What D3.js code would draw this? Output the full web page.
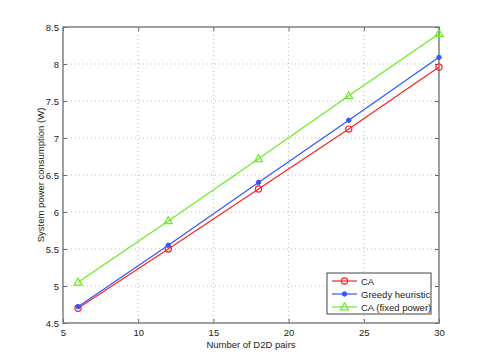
<!DOCTYPE html>
<html>
<head>
<meta charset="utf-8">
<script src="https://cdn.jsdelivr.net/npm/d3@7"></script>
<style>
  body { margin: 0; background: #fff; }
  svg { font-family: "Liberation Sans", Arial, sans-serif; }
</style>
</head>
<body>
<div id="chart"></div>
<script>
var svgWidth = 485;
var svgHeight = 363;

var margin = { top: 27, right: 46, bottom: 40, left: 63 };
var width = svgWidth - margin.left - margin.right;
var height = svgHeight - margin.top - margin.bottom;

// data
var pairs = [6, 12, 18, 24, 30];
var caPower = [4.70, 5.50, 6.31, 7.12, 7.96];
var greedyPower = [4.72, 5.55, 6.40, 7.24, 8.09];
var fixedPower = [5.05, 5.88, 6.72, 7.57, 8.41];
var xTicks = [5, 10, 15, 20, 25, 30];
var yTicks = [4.5, 5, 5.5, 6, 6.5, 7, 7.5, 8, 8.5];

var series = [
  { name: "CA", values: caPower, color: "#ff2020", marker: "circle" },
  { name: "Greedy heuristic", values: greedyPower, color: "#3355ff", marker: "dot" },
  { name: "CA (fixed power)", values: fixedPower, color: "#66ee22", marker: "triangle" }
];

var svg = d3.select("#chart")
  .append("svg")
  .attr("width", svgWidth)
  .attr("height", svgHeight);

var chartGroup = svg.append("g")
  .attr("transform", `translate(${margin.left}, ${margin.top})`);

var xScale = d3.scaleLinear().domain([5, 30]).range([0, width]);
var yScale = d3.scaleLinear().domain([4.5, 8.5]).range([height, 0]);

// dotted grid
chartGroup.append("g")
  .selectAll("line")
  .data(xTicks.slice(1, -1))
  .enter()
  .append("line")
  .attr("x1", d => xScale(d)).attr("x2", d => xScale(d))
  .attr("y1", 0).attr("y2", height)
  .attr("stroke", "#aaa")
  .attr("stroke-width", 0.8)
  .attr("stroke-dasharray", "1,3");

chartGroup.append("g")
  .selectAll("line")
  .data(yTicks.slice(1, -1))
  .enter()
  .append("line")
  .attr("x1", 0).attr("x2", width)
  .attr("y1", d => yScale(d)).attr("y2", d => yScale(d))
  .attr("stroke", "#aaa")
  .attr("stroke-width", 0.8)
  .attr("stroke-dasharray", "1,3");

// axes, ticks pointing inward on all four sides
function styleAxis(g) {
  g.select(".domain").remove();
  g.selectAll(".tick line").attr("stroke", "#666").attr("stroke-width", 1);
  g.selectAll(".tick text")
    .attr("fill", "#222")
    .style("font-size", "9.5px");
}

var bottomAxis = d3.axisBottom(xScale).tickValues(xTicks).tickSize(-4).tickPadding(6).tickFormat(d3.format("d"));
var leftAxis = d3.axisLeft(yScale).tickValues(yTicks).tickSize(-4).tickPadding(4).tickFormat(d => d);

chartGroup.append("g")
  .attr("transform", `translate(0, ${height})`)
  .call(bottomAxis)
  .call(styleAxis);

chartGroup.append("g")
  .call(leftAxis)
  .call(styleAxis);

chartGroup.append("g")
  .call(d3.axisTop(xScale).tickValues(xTicks).tickSize(-4).tickFormat(""))
  .call(styleAxis);

chartGroup.append("g")
  .attr("transform", `translate(${width}, 0)`)
  .call(d3.axisRight(yScale).tickValues(yTicks).tickSize(-4).tickFormat(""))
  .call(styleAxis);

// frame
chartGroup.append("rect")
  .attr("width", width)
  .attr("height", height)
  .attr("fill", "none")
  .attr("stroke", "#777")
  .attr("stroke-width", 1.4);

// lines
var line = d3.line()
  .x((d, i) => xScale(pairs[i]))
  .y(d => yScale(d));

function drawMarker(g, type, color, x, y) {
  if (type === "circle") {
    g.append("circle").attr("cx", x).attr("cy", y).attr("r", 3.1)
      .attr("fill", "none").attr("stroke", color).attr("stroke-width", 1.2);
  } else if (type === "dot") {
    g.append("circle").attr("cx", x).attr("cy", y).attr("r", 2.2)
      .attr("fill", color).attr("stroke", color);
  } else {
    g.append("path")
      .attr("d", d3.symbol().type(d3.symbolTriangle).size(28)())
      .attr("transform", `translate(${x}, ${y + 0.5})`)
      .attr("fill", "none").attr("stroke", color).attr("stroke-width", 1.2);
  }
}

series.forEach(function(s) {
  chartGroup.append("path")
    .datum(s.values)
    .attr("d", line)
    .attr("fill", "none")
    .attr("stroke", s.color)
    .attr("stroke-width", 1.2);

  var mg = chartGroup.append("g");
  s.values.forEach(function(v, i) {
    drawMarker(mg, s.marker, s.color, xScale(pairs[i]), yScale(v));
  });
});

// axis labels
chartGroup.append("text")
  .attr("x", width / 2)
  .attr("y", height + 25)
  .attr("text-anchor", "middle")
  .style("font-size", "9.5px")
  .attr("fill", "#222")
  .text("Number of D2D pairs");

chartGroup.append("text")
  .attr("transform", "rotate(-90)")
  .attr("x", -height / 2)
  .attr("y", -19)
  .attr("text-anchor", "middle")
  .style("font-size", "9.5px")
  .attr("fill", "#222")
  .text("System power consumption (W)");

// legend
var legend = chartGroup.append("g")
  .attr("transform", `translate(${width - 112}, ${height - 50})`);

legend.append("rect")
  .attr("width", 104)
  .attr("height", 41)
  .attr("fill", "#fff")
  .attr("stroke", "#444")
  .attr("stroke-width", 1);

series.forEach(function(s, i) {
  var y = 8 + i * 13;
  legend.append("line")
    .attr("x1", 5).attr("x2", 30)
    .attr("y1", y).attr("y2", y)
    .attr("stroke", s.color)
    .attr("stroke-width", 1.2);
  drawMarker(legend, s.marker, s.color, 17.5, y);
  legend.append("text")
    .attr("x", 34)
    .attr("y", y + 3.5)
    .style("font-size", "9.5px")
    .attr("fill", "#222")
    .text(s.name);
});
</script>
</body>
</html>
